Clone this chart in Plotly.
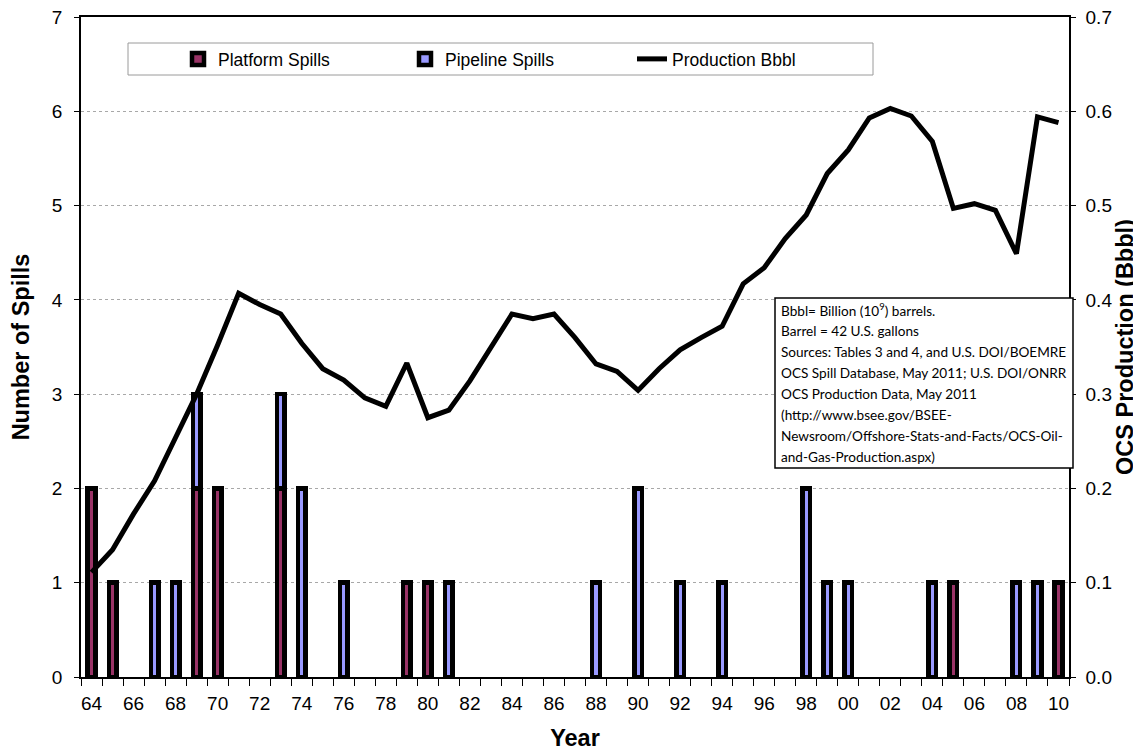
import plotly.graph_objects as go

years = list(range(1964, 2011))
platform_spills = [2, 1, 0, 0, 0, 2, 2, 0, 0, 2, 0, 0, 0, 0, 0, 1, 1, 0, 0, 0,
                   0, 0, 0, 0, 0, 0, 0, 0, 0, 0, 0, 0, 0, 0, 0, 0, 0, 0, 0, 0,
                   0, 1, 0, 0, 0, 0, 1]
pipeline_spills = [0, 0, 0, 1, 1, 1, 0, 0, 0, 1, 2, 0, 1, 0, 0, 0, 0, 1, 0, 0,
                   0, 0, 0, 0, 1, 0, 2, 0, 1, 0, 1, 0, 0, 0, 2, 1, 1, 0, 0, 0,
                   1, 0, 0, 0, 1, 1, 0]
production_bbbl = [0.111, 0.135, 0.173, 0.208, 0.254, 0.300, 0.352, 0.407, 0.395, 0.385,
                   0.354, 0.327, 0.315, 0.296, 0.287, 0.333, 0.275, 0.283, 0.314, 0.349,
                   0.385, 0.380, 0.385, 0.360, 0.332, 0.324, 0.304, 0.327, 0.347, 0.360,
                   0.372, 0.417, 0.434, 0.465, 0.490, 0.534, 0.559, 0.593, 0.603, 0.595,
                   0.568, 0.497, 0.502, 0.495, 0.449, 0.594, 0.588]
tick_years = list(range(1964, 2011, 2))
tick_labels = [str(y)[2:] for y in tick_years]

note_lines = [
    "Bbbl= Billion (10<sup>9</sup>) barrels.",
    "Barrel = 42 U.S. gallons",
    "Sources: Tables 3 and 4, and U.S. DOI/BOEMRE",
    "OCS Spill Database, May 2011; U.S. DOI/ONRR",
    "OCS Production Data, May 2011",
    "(http://www.bsee.gov/BSEE-",
    "Newsroom/Offshore-Stats-and-Facts/OCS-Oil-",
    "and-Gas-Production.aspx)",
]

FONT = "Liberation Sans, Arial, sans-serif"
# the page body adds an 8px margin, so the figure is made 8px smaller
OFF = 8
W, H = 1141 - OFF, 751 - OFF
L, R, T, B = 81 - OFF, 72, 9, 74
PW, PH = W - L - R, H - T - B


def px_x(px):
    return (px - OFF - L) / PW


def px_y(py):
    return (H - B - (py - OFF)) / PH


# zero counts are left out so no empty bar outline is drawn
def no_zero(vals):
    return [v if v else None for v in vals]


fig = go.Figure()

fig.add_trace(go.Bar(
    x=years, y=no_zero(platform_spills), name="Platform Spills",
    width=0.36,
    marker=dict(color="#993366", line=dict(color="black", width=4.5)),
))
fig.add_trace(go.Bar(
    x=years, y=no_zero(pipeline_spills), name="Pipeline Spills",
    width=0.36,
    marker=dict(color="#9999FF", line=dict(color="black", width=4.5)),
))
fig.add_trace(go.Scatter(
    x=years, y=production_bbbl, name="Production Bbbl", yaxis="y2",
    mode="lines", line=dict(color="black", width=5),
))

shapes = [
    # legend frame
    dict(type="rect", xref="paper", yref="paper",
         x0=px_x(128), x1=px_x(873), y0=px_y(75), y1=px_y(43),
         line=dict(color="#9a9a9a", width=1), fillcolor="white", layer="below"),
    # note box
    dict(type="rect", xref="paper", yref="paper",
         x0=px_x(775), x1=px_x(1073), y0=px_y(468), y1=px_y(298),
         line=dict(color="black", width=1.5), fillcolor="white", layer="above"),
]

annotations = []
for i, txt in enumerate(note_lines):
    annotations.append(dict(
        xref="paper", yref="paper", x=px_x(779), y=px_y(310 + i * 21),
        xanchor="left", yanchor="middle", text=txt, showarrow=False,
        font=dict(family="Lato, sans-serif", size=13.6, color="black"),
    ))

fig.update_layout(
    width=W, height=H,
    margin=dict(l=L, r=R, t=T, b=B),
    paper_bgcolor="white", plot_bgcolor="white",
    barmode="stack",
    font=dict(family=FONT, color="black"),
    showlegend=True,
    legend=dict(
        orientation="h", x=px_x(178), y=px_y(41), xanchor="left", yanchor="top",
        bgcolor="rgba(0,0,0,0)", borderwidth=0, traceorder="normal",
        font=dict(family=FONT, size=17.5),
        entrywidth=182, entrywidthmode="pixels",
    ),
    xaxis=dict(
        range=[1963.5, 2010.5], automargin=False,
        tickvals=tick_years, ticktext=tick_labels,
        ticks="", showgrid=False,
        showline=True, linecolor="black", linewidth=1.5, mirror=True,
        tickfont=dict(size=19), ticklabelstandoff=8,
        minor=dict(ticks="outside", tick0=1963.5, dtick=1, ticklen=7,
                   tickcolor="black", showgrid=False),
        title=dict(text="<b>Year</b>", font=dict(size=23.5), standoff=17),
        zeroline=False,
    ),
    yaxis=dict(
        range=[0, 7], dtick=1, automargin=False, ticklabeloverflow="allow",
        showgrid=True, gridcolor="#a8a8a8", griddash="dot", gridwidth=1,
        showline=True, linecolor="black", linewidth=1.5,
        ticks="outside", ticklen=5, tickcolor="black",
        tickfont=dict(size=19), ticklabelstandoff=8,
        title=dict(text="<b>Number of Spills</b>", font=dict(size=23.5), standoff=21),
        zeroline=False,
    ),
    yaxis2=dict(
        range=[0, 0.7], dtick=0.1, tickformat=".1f", automargin=False,
        ticklabeloverflow="allow",
        overlaying="y", side="right", showgrid=False,
        showline=True, linecolor="black", linewidth=1.5,
        ticks="outside", ticklen=5, tickcolor="black",
        tickfont=dict(size=19), ticklabelstandoff=6,
        title=dict(text="<b>OCS Production (Bbbl)</b>", font=dict(size=23.5), standoff=5),
        zeroline=False,
    ),
    shapes=shapes,
    annotations=annotations,
)

fig.write_html("out.html")
